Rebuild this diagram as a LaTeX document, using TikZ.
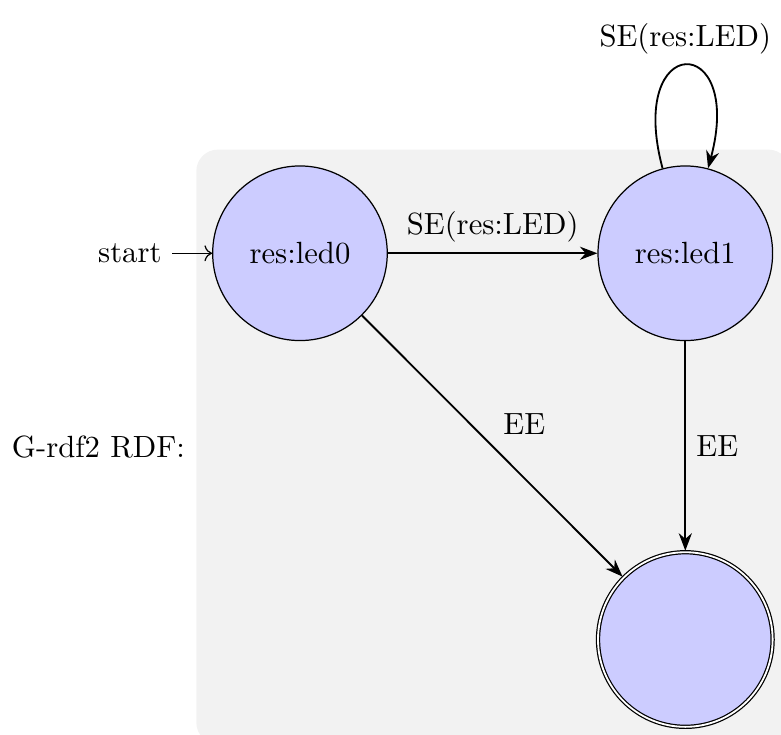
\documentclass[tikz,border=0pt]{standalone}
\usepackage{amsmath, amssymb}
\usetikzlibrary{arrows.meta, automata, positioning, fit, backgrounds}

\begin{document}
\begin{tikzpicture}[
  st/.style={state, fill=blue!20, minimum size=2cm},
  arr/.style={-{Stealth}, semithick},
  node distance=2.4cm]
\useasboundingbox (-3.436,2.901) rectangle (5.51,-5.518);
\node[st, initial] (led0) {res:led0};
\node[st, right=of led0] (led1) {res:led1};
\node[st, accepting, below=of led1] (fin) {};
\begin{scope}[on background layer]
\node[fit=(led0)(led1)(fin), fill=black!5, rounded corners=7pt, inner sep=0.18cm] (bg) {};
\end{scope}
\node[left=0pt of bg] (title) {G-rdf2 RDF:};
\draw[arr] (led0) -- node[auto] {SE(res:LED)} (led1);
\draw[arr] (led1) to[loop above] node[above] {SE(res:LED)} (led1);
\draw[arr] (led0) -- node[auto] {EE} (fin);
\draw[arr] (led1) -- node[auto] {EE} (fin);
\end{tikzpicture}
\end{document}
